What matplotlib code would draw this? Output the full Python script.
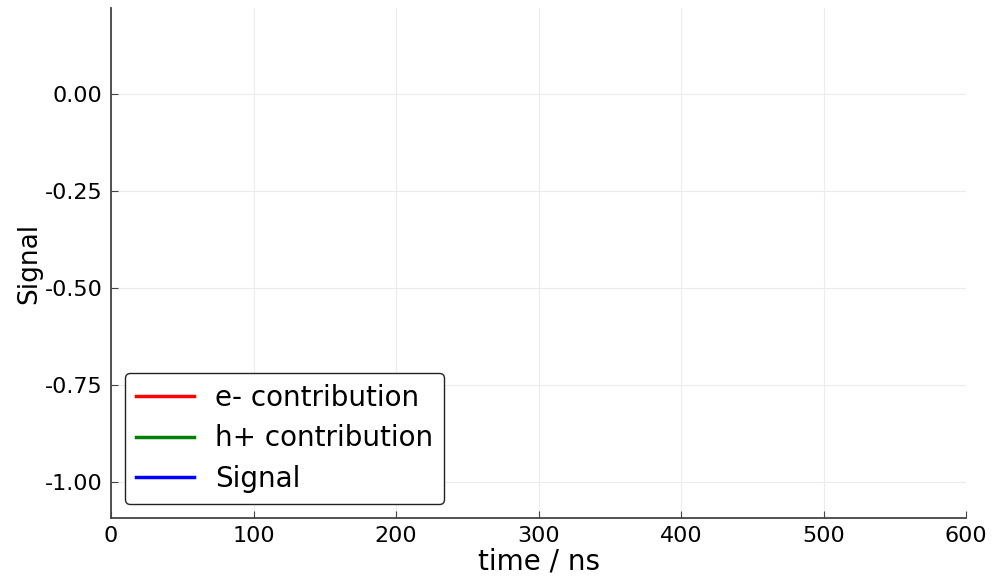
import matplotlib
matplotlib.use('Agg')
import matplotlib.pyplot as plt

# data (the curves fall outside the visible window / are empty)
time_ns = []
e_contribution = []
h_contribution = []
signal = []

x_ticks = [0, 100, 200, 300, 400, 500, 600]
y_ticks = [0.0, -0.25, -0.5, -0.75, -1.0]

fig = plt.figure(figsize=(10.03, 5.76), dpi=100)
ax = fig.add_axes([0.1107, 0.1007, 0.8525, 0.8853])

ax.plot(time_ns, e_contribution, color='red', lw=2.5, label='e- contribution')
ax.plot(time_ns, h_contribution, color='green', lw=2.5, label='h+ contribution')
ax.plot(time_ns, signal, color='blue', lw=2.5, label='Signal')

ax.set_xlim(0, 600)
ax.set_ylim(-1.093, 0.222)
ax.set_xticks(x_ticks)
ax.set_yticks(y_ticks)
ax.set_yticklabels(['%.2f' % v for v in y_ticks])

ax.grid(True, color='#ececec', lw=0.8)
for s in ['top', 'right']:
    ax.spines[s].set_visible(False)
for s in ['left', 'bottom']:
    ax.spines[s].set_color('#444444')
    ax.spines[s].set_linewidth(1.3)
ax.tick_params(direction='in', labelsize=16, length=5, color='#444444', pad=6)

ax.set_xlabel('time / ns', fontsize=20, labelpad=1)
ax.set_ylabel('Signal', fontsize=19, labelpad=2)

leg = ax.legend(loc='lower left', fontsize=20, frameon=True, fancybox=True,
                handlelength=2.1, borderaxespad=0.5, labelspacing=0.45,
                handletextpad=0.75)
leg.get_frame().set_edgecolor('#222222')
leg.get_frame().set_linewidth(1.0)
leg.get_frame().set_alpha(1)

plt.savefig('out.png', dpi=100)
plt.close()
